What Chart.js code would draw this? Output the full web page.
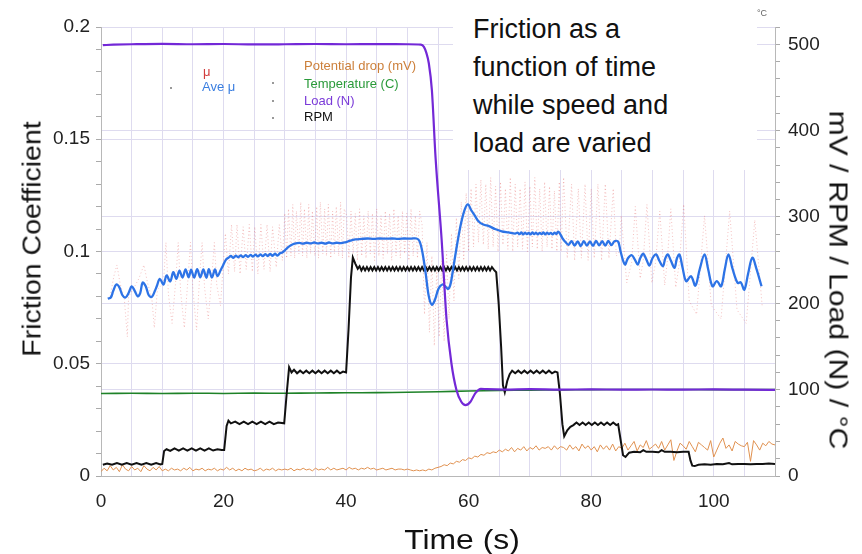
<!DOCTYPE html>
<html>
<head>
<meta charset="utf-8">
<script src="https://cdn.jsdelivr.net/npm/chart.js@4.4.0/dist/chart.umd.min.js"></script>
<style>
body { margin: 0; background: #fff; }
#wrap { position: relative; width: 862px; height: 554px; font-family: "Liberation Sans", Arial, sans-serif; color: #111; }
canvas { position: absolute; left: 0; top: 0; }
.txt { position: absolute; white-space: nowrap; }
.note { left: 453px; top: 0; width: 304px; height: 170px; background: #fff; }
.note div { position: absolute; left: 20px; top: 10px; font-size: 27px; line-height: 38px; color: #111; }
.leg { font-size: 13px; line-height: 16px; }
.dot { position: absolute; width: 2px; height: 2px; background: #999; }
.ytitle { font-size: 25px; left: 32px; top: 239px; transform: translate(-50%, -50%) rotate(-90deg) scaleX(1.14); }
.y2title { font-size: 26px; left: 838px; top: 280px; transform: translate(-50%, -50%) rotate(90deg) scaleX(1.16); }
.xtitle { font-size: 27px; left: 462px; top: 540px; transform: translate(-50%, -50%) scaleX(1.18); }
</style>
</head>
<body>
<div id="wrap">
  <canvas id="chart" width="862" height="554"></canvas>
  <div class="txt note"><div>Friction as a<br>function of time<br>while speed and<br>load are varied</div></div>
  <div class="txt" style="left:757px;top:8px;font-size:9px;color:#666;">°C</div>
  <div class="dot" style="left:170px;top:87px"></div>
  <div class="dot" style="left:272px;top:82px"></div>
  <div class="dot" style="left:272px;top:100px"></div>
  <div class="dot" style="left:272px;top:117px"></div>
  <div class="txt leg" style="left:203px;top:64px;color:#d23c3c">μ</div>
  <div class="txt leg" style="left:202px;top:79px;color:#3a7ee0">Ave μ</div>
  <div class="txt leg" style="left:304px;top:58px;color:#cc7f3a">Potential drop (mV)</div>
  <div class="txt leg" style="left:304px;top:76px;color:#2a9a3a">Temperature (C)</div>
  <div class="txt leg" style="left:304px;top:93px;color:#7a3ad8">Load (N)</div>
  <div class="txt leg" style="left:304px;top:109px;color:#111">RPM</div>
  <div class="txt ytitle">Friction Coefficient</div>
  <div class="txt y2title">mV / RPM / Load (N) / °C</div>
  <div class="txt xtitle">Time (s)</div>
</div>
<script>
// tick labels
const xLabels = [0, 20, 40, 60, 80, 100];
const leftLabels = ['0', '0.05', '0.1', '0.15', '0.2'];
const rightLabels = [0, 100, 200, 300, 400, 500];

// friction coefficient samples (time s, mu)
const mu = [
  [1.5,.080],[2.1,.089],[2.6,.094],[3.1,.086],[3.8,.079],[4.3,.062],[4.5,.080],[5.2,.083],[6.2,.088],[7.0,.094],[7.6,.086],[8.3,.079],[8.7,.066],[9.2,.083],
  [10.2,.086],[10.6,.104],[11.0,.081],[11.6,.068],[12.2,.087],[12.6,.104],[13.0,.082],[13.6,.066],[14.2,.088],[14.6,.104],[15.0,.083],[15.6,.065],[16.1,.089],[16.5,.104],[16.9,.084],[17.5,.070],[18.1,.089],[18.5,.104],[18.9,.085],[19.5,.076],
  [19.9,.092],[20.3,.108],[20.8,.090],[21.3,.112],[21.8,.091],[22.2,.112],[22.7,.090],[23.2,.111],[23.7,.092],[24.2,.112],[24.7,.091],[25.1,.111],[25.6,.090],[26.1,.112],[26.6,.092],[27.1,.112],[27.6,.091],[28.0,.111],[28.6,.093],[29.1,.112],[29.6,.096],
  [30.0,.117],[30.3,.097],[30.6,.119],[31.0,.098],[31.3,.121],[31.6,.097],[31.9,.118],[32.3,.099],[32.6,.122],[32.9,.098],[33.2,.119],[33.6,.097],[33.9,.121],[34.2,.099],[34.5,.118],[34.9,.098],[35.2,.120],[35.5,.097],[35.8,.122],[36.2,.099],[36.5,.119],[36.8,.098],[37.1,.121],[37.5,.097],[37.8,.118],[38.1,.099],[38.4,.120],[38.8,.098],[39.1,.122],[39.4,.097],[39.7,.119],
  [40.1,.116],[40.45,.097],[40.8,.118],[41.15,.099],[41.5,.117],[41.85,.096],[42.2,.119],[42.55,.098],[42.9,.116],[43.25,.097],[43.6,.118],[43.95,.099],[44.3,.117],[44.65,.096],[45.0,.119],[45.35,.098],[45.7,.116],[46.05,.097],[46.4,.118],[46.75,.099],[47.1,.117],[47.45,.096],[47.8,.119],[48.15,.098],[48.5,.116],[48.85,.097],[49.2,.118],[49.55,.099],[49.9,.117],[50.25,.096],[50.6,.119],[50.95,.098],[51.3,.116],[51.65,.097],[52.0,.118],
  [52.4,.112],[52.8,.072],[53.2,.104],[53.6,.064],[54.0,.098],[54.4,.058],[54.8,.092],[55.2,.062],[55.6,.096],[56.0,.060],[56.4,.100],[56.8,.070],[57.2,.108],[57.6,.078],[58.0,.115],[58.4,.088],[58.8,.122],[59.2,.096],[59.6,.126],[60.0,.100],[60.4,.128],[60.8,.102],[61.2,.130],[61.6,.104],
  [62.0,.132],[62.4,.103],[62.8,.130],[63.2,.101],[63.6,.133],[64.0,.102],[64.4,.129],[64.8,.100],[65.2,.131],[65.6,.103],[66.0,.128],[66.4,.101],[66.8,.133],[67.2,.100],[67.6,.130],[68.0,.102],[68.4,.128],[68.8,.101],[69.2,.131],[69.6,.100],[70.0,.129],[70.4,.102],[70.8,.133],[71.2,.101],[71.6,.128],[72.0,.100],[72.4,.131],[72.8,.102],[73.2,.129],[73.6,.101],[74.0,.127],[74.4,.100],[74.8,.131],
  [75.1,.100],[75.5,.133],[76.1,.097],[76.8,.130],[77.3,.096],[77.9,.128],[78.4,.097],[79.0,.130],[79.5,.096],[80.0,.128],[80.5,.097],[81.1,.130],[81.7,.096],[82.3,.130],[82.9,.097],[83.6,.128],[84.1,.098],
  [84.6,.100],[84.9,.116],[85.8,.086],[86.6,.095],[87.2,.120],[88.0,.088],[88.5,.096],[89.1,.121],[89.9,.086],[90.5,.095],[91.2,.118],[92.0,.085],[92.4,.095],[93.0,.119],[93.8,.084],[94.4,.095],[95.1,.121],[96.0,.078],[97.2,.072],[98.5,.116],[99.6,.076],[101.2,.070],[102.6,.118],[103.8,.074],[105.3,.068],[106.7,.114],[107.9,.076]
];

// average friction coefficient (time s, mu)
const aveMu = [
  [1.1,.0790],[1.6,.0795],[2.0,.0825],[2.5,.0853],[3.0,.0840],[3.5,.0805],[4.0,.0795],[4.5,.0815],[5.0,.0845],[5.5,.0825],[6.0,.0800],[6.4,.0815],[6.8,.0862],[7.3,.0845],[7.8,.0805],[8.3,.0798],[8.8,.0825],[9.1,.0845],
  [9.6,.0878],[10.2,.0853],[10.7,.0893],[11.3,.0867],[11.8,.0908],[12.3,.0878],[12.8,.0915],[13.3,.0884],[13.8,.0920],[14.3,.0885],[14.7,.0919],[15.2,.0884],[15.7,.0921],[16.2,.0885],[16.7,.0920],[17.2,.0883],[17.6,.0921],[18.1,.0884],[18.6,.0920],[19.0,.0890],
  [19.5,.0915],[19.9,.0937],[20.4,.0964],[20.8,.0972],[21.2,.0980],[21.6,.0972],[22.0,.0981],[22.4,.0974],[22.8,.0983],[23.2,.0975],[23.6,.0984],[24.0,.0976],[24.4,.0985],[24.8,.0977],[25.2,.0986],[25.6,.0978],[26.0,.0987],[26.4,.0979],[26.8,.0988],[27.2,.0980],[27.6,.0989],[28.0,.0981],[28.4,.0990],[28.8,.0982],[29.2,.0992],
  [29.6,.0996],[30.0,.1005],[30.5,.1018],[31.0,.1028],[31.6,.1035],[32.4,.1038],[33.0,.1035],[33.6,.1039],[34.2,.1036],[34.8,.1040],[35.4,.1036],[36.0,.1039],[36.6,.1035],[37.2,.1040],[37.8,.1036],[38.4,.1039],[39.0,.1037],[39.6,.1040],[40.0,.1042],[40.5,.1047],[41.0,.1051],[41.5,.1054],
  [42.5,.1056],[43.5,.1058],[44.5,.1056],[45.5,.1058],[46.5,.1057],[47.5,.1058],[48.5,.1056],[49.5,.1058],[50.5,.1057],[51.5,.1058],
  [52.0,.1045],[52.5,.0990],[53.0,.0900],[53.5,.0800],[54.0,.0763],[54.5,.0785],[55.1,.0835],[55.7,.0853],[56.2,.0845],[56.6,.0833],[57.0,.0850],[57.4,.0910],[57.8,.0979],[58.3,.1060],[58.8,.1130],[59.4,.1190],[59.9,.1210],[60.4,.1185],[61.0,.1160],[61.6,.1135],[62.4,.1120],[63.3,.1113],[64.3,.1100],[65.4,.1090],[66.5,.1085],[67.6,.1080],
  [68.0,.1084],[68.3,.1077],[68.6,.1085],[68.9,.1076],[69.2,.1084],[69.5,.1077],[69.8,.1083],[70.1,.1076],[70.4,.1085],[70.7,.1077],[71.0,.1084],[71.3,.1076],[71.6,.1083],[71.9,.1077],[72.2,.1085],[72.5,.1076],[72.8,.1084],[73.1,.1077],[73.4,.1083],[73.7,.1076],[74.0,.1084],[74.3,.1078],[74.6,.1088],
  [74.9,.1080],[75.3,.1060],[75.8,.1042],[76.3,.1030],[76.8,.1046],[77.3,.1026],[77.8,.1045],[78.3,.1024],[78.8,.1046],[79.3,.1026],[79.8,.1045],[80.3,.1025],[80.8,.1047],[81.3,.1027],[81.8,.1046],[82.3,.1026],[82.8,.1047],[83.3,.1028],[83.8,.1046],[84.4,.1044],
  [84.8,.1000],[85.5,.0942],[86.0,.0970],[86.6,.0984],[87.1,.0965],[87.6,.0942],[88.0,.0970],[88.5,.0990],[89.0,.0965],[89.5,.0937],[90.0,.0970],[90.6,.0987],[91.1,.0960],[91.7,.0934],[92.1,.0970],[92.5,.0987],[93.0,.0960],[93.6,.0927],[94.0,.0970],[94.4,.0987],
  [94.9,.0930],[95.5,.0868],[96.3,.0890],[97.0,.0848],[97.7,.0920],[98.5,.0987],[99.1,.0920],[99.8,.0845],[100.5,.0868],[101.2,.0845],[101.8,.0920],[102.4,.0987],[103.1,.0920],[103.9,.0860],[104.4,.0863],[105.0,.0830],[105.6,.0900],[106.3,.0972],[107.0,.0920],[107.8,.0845]
];

// potential drop (mV), sampled every 0.5 s from t = 0
const potStep = 0.5;
const potential = [
  5,9,6,12,7,10,5,13,8,6,11,7,9,5,12,8,6,10,7,11,6,
  8,6,9,7,8,6,9,7,10,6,8,7,9,6,8,7,9,6,8,7,
  10,7,9,6,8,6,9,7,8,6,7,9,6,8,7,9,6,8,7,8,
  7,9,6,8,7,9,7,8,6,9,7,8,7,10,7,9,7,8,9,7,
  10,8,9,7,9,8,10,8,9,7,8,9,7,8,9,7,8,8,7,8,
  7,6,7,6,7,6,8,7,9,10,
  11,13,12,15,14,17,16,19,18,21,20,23,22,25,24,27,26,28,27,30,
  28,31,29,33,28,32,30,34,29,33,31,35,30,33,32,34,30,35,31,34,
  33,30,36,31,34,29,37,32,35,30,34,28,36,31,35,30,37,29,34,32,
  38,30,35,40,29,36,33,41,31,34,37,32,40,30,36,42,18,29,38,35,
  31,40,34,28,39,36,33,30,41,22,30,38,44,32,36,29,40,37,35,34,
  39,17,41,36,30,38,35,40,37,36
];

// temperature (C)
const temperature = [
  [0,95.5],[5,95.8],[10,95.5],[15,95.9],[20,95.6],[25,96],[30,95.8],[35,96.2],[40,96.4],[45,96.6],[50,97],
  [55,97.6],[60,98.4],[65,99],[70,99.5],[75,99.8],[80,100],[90,100.2],[100,100],[110,100]
];

// load (N)
const load = [
  [0.3,499],[2,499.5],[5,500],[10,500.5],[15,500],[20,500.3],[25,499.8],[30,500],[35,500.3],[40,500],[45,500.2],[50,500],
  [52.2,499.5],[52.7,497],[53.1,490],[53.5,478],[54.0,447],[54.6,369],[55.6,273],[56.4,181],[57.2,130],[58.0,100],[58.8,86],[59.5,82],[60.3,86],[61.1,96],[62.0,101],
  [63,100.5],[66,100],[70,100.5],[75,100],[80,100.3],[85,100],[90,100.2],[95,100],[100,100.3],[105,100],[110,99.8]
];

// RPM
const rpm = [
  [0.3,13],[1.0,14.5],[1.8,13],[2.6,15],[3.4,13],[4.2,15],[5.0,13],[5.8,15],[6.6,13],[7.4,15],[8.2,13],[9.0,15],[9.7,13.5],[10.0,14],
  [10.3,29],[10.7,31],[11.3,29],[12.0,32],[12.7,29.5],[13.4,32],[14.1,29.5],[14.8,32],[15.5,29.5],[16.2,32],[16.9,29.5],[17.6,32],[18.3,29.5],[19.0,31],[19.7,30],[20.1,30],
  [20.5,58],[20.8,64],[21.2,61],[21.9,63],[22.6,60],[23.3,63],[24.0,60],[24.7,63],[25.4,60],[26.1,63],[26.8,60],[27.5,63],[28.2,60],[28.9,62],[29.9,61],
  [30.3,95],[30.7,126],[31.1,120],[31.5,123],[32.0,119],[32.5,122],[33.0,119],[33.5,122],[34.0,119],[34.5,122],[35.0,119],[35.5,122],[36.0,119],[36.5,122],[37.0,119],[37.5,122],[38.0,119],[38.5,122],[39.0,119],[39.5,121],[40.0,120],
  [40.4,170],[40.8,230],[41.1,253],[41.5,246],[41.9,240],[42.2,243],[42.5,238],[42.8,242],[43.1,238],[43.4,242],[43.7,238],[44.0,242],[44.3,238],[44.6,242],[44.9,238],
  [45.2,242],[45.5,238],[45.8,242],[46.1,238],[46.4,242],[46.7,238],[47.0,242],[47.3,238],[47.6,242],[47.9,238],[48.2,242],[48.5,238],[48.8,242],[49.1,238],[49.4,242],
  [49.7,238],[50.0,242],[50.3,238],[50.6,242],[50.9,238],[51.2,242],[51.5,238],[51.8,242],[52.1,238],[52.4,242],[52.7,238],[53.0,242],[53.3,238],[53.6,242],[53.9,238],
  [54.2,242],[54.5,238],[54.8,242],[55.1,238],[55.4,242],[55.7,238],[56.0,242],[56.3,238],[56.6,242],[56.9,238],[57.2,242],[57.5,238],[57.8,242],[58.1,238],[58.4,242],
  [58.7,238],[59.0,242],[59.3,238],[59.6,242],[59.9,238],[60.2,242],[60.5,238],[60.8,242],[61.1,238],[61.4,242],[61.7,238],[62.0,242],[62.3,238],[62.6,242],[62.9,238],
  [63.2,242],[63.5,238],[63.8,242],[64.1,239],
  [64.5,236],[64.9,200],[65.3,150],[65.6,105],[65.9,97],[66.3,110],[66.7,118],[67.1,122],[67.6,119],[68.1,122],[68.6,119],[69.1,122],[69.6,119],[70.1,122],[70.6,119],[71.1,122],[71.6,119],[72.1,122],[72.6,119],[73.1,122],[73.6,119],[74.1,121],[74.5,120],
  [74.9,95],[75.3,60],[75.6,46],[76.1,53],[76.6,57],[77.1,59],[77.6,62],[78.1,59],[78.6,62],[79.1,59],[79.6,62],[80.1,59],[80.6,62],[81.1,59],[81.6,62],[82.1,59],[82.6,62],[83.1,59],[83.6,62],[84.1,59],[84.4,60],
  [84.8,42],[85.2,24],[85.6,22],[86.2,27],[87.0,28],[88.0,27.5],[88.5,30],[89.0,28],[90.0,28],[91.0,27.5],[91.5,30],[92.0,28],[93.0,28],[94.0,27.5],[95.0,28],[95.9,28],
  [96.2,18],[96.5,12],[96.9,11.5],[97.5,13],[98.5,13.5],[99.5,13],[100.5,14],[101.5,13.5],[102.5,15],[103,13.5],[104,14],[105,14],[106,13.5],[107,14],[108,14],[109,14.5],[110,14]
];

const font = "'Liberation Sans', Arial, sans-serif";
const gridCol = '#dedbef';
const toXY = arr => arr.map(p => ({x: p[0], y: p[1]}));

const potPts = potential.map((v, i) => ({x: i * potStep, y: v}));

const chart = new Chart(document.getElementById('chart'), {
    type: 'line',
    data: {
        datasets: [
            {label: 'μ', data: toXY(mu), yAxisID: 'y', borderColor: 'rgba(222,70,70,0.42)', borderWidth: 0.8, borderDash: [1, 2.5], pointRadius: 0, tension: 0, order: 6},
            {label: 'Potential drop (mV)', data: potPts, yAxisID: 'y2', borderColor: 'rgb(224,145,80)', borderWidth: 1, pointRadius: 0, tension: 0, order: 5},
            {label: 'Temperature (C)', data: toXY(temperature), yAxisID: 'y2', borderColor: 'rgb(30,130,40)', borderWidth: 1.6, pointRadius: 0, tension: 0.3, order: 4},
            {label: 'RPM', data: toXY(rpm), yAxisID: 'y2', borderColor: '#111', borderWidth: 2, pointRadius: 0, tension: 0, order: 3},
            {label: 'Ave μ', data: toXY(aveMu), yAxisID: 'y', borderColor: 'rgb(45,115,230)', borderWidth: 2.3, pointRadius: 0, tension: 0.35, order: 2},
            {label: 'Load (N)', data: toXY(load), yAxisID: 'y2', borderColor: 'rgb(115,40,215)', borderWidth: 2.2, pointRadius: 0, cubicInterpolationMode: 'monotone', order: 1}
        ]
    },
    options: {
        responsive: false,
        devicePixelRatio: 1,
        animation: false,
        layout: {padding: {top: 27}},
        plugins: {legend: {display: false}, tooltip: {enabled: false}},
        scales: {
            x: {
                type: 'linear', min: 0, max: 110,
                afterFit: s => { s.height = 78; },
                ticks: {
                    stepSize: 5, autoSkip: false, maxRotation: 0, padding: 14, color: '#222',
                    font: {family: font, size: 19},
                    callback: v => xLabels.includes(v) ? String(v) : ''
                },
                grid: {color: gridCol, tickLength: 0},
                border: {color: '#b8b8b8'}
            },
            y: {
                position: 'left', min: 0, max: 0.2,
                afterFit: s => { s.width = 101; },
                ticks: {
                    stepSize: 0.01, autoSkip: false, padding: 6, color: '#222',
                    font: {family: font, size: 19},
                    callback: v => {
                        let k = Math.round(v * 100);
                        return k % 5 === 0 ? leftLabels[k / 5] : '';
                    }
                },
                grid: {
                    color: ctx => Math.round(ctx.tick.value * 100) % 5 === 0 ? gridCol : 'rgba(0,0,0,0)',
                    tickColor: '#aaa', tickLength: 5
                },
                border: {color: '#b8b8b8'}
            },
            y2: {
                position: 'right', min: 0, max: 520,
                afterFit: s => { s.width = 87; },
                ticks: {
                    stepSize: 20, autoSkip: false, padding: 8, color: '#222',
                    font: {family: font, size: 19},
                    callback: v => rightLabels.includes(v) ? String(v) : ''
                },
                grid: {
                    color: ctx => rightLabels.includes(ctx.tick.value) ? gridCol : 'rgba(0,0,0,0)',
                    tickColor: '#aaa', tickLength: 5
                },
                border: {color: '#b8b8b8'}
            }
        }
    }
});
</script>
</body>
</html>
